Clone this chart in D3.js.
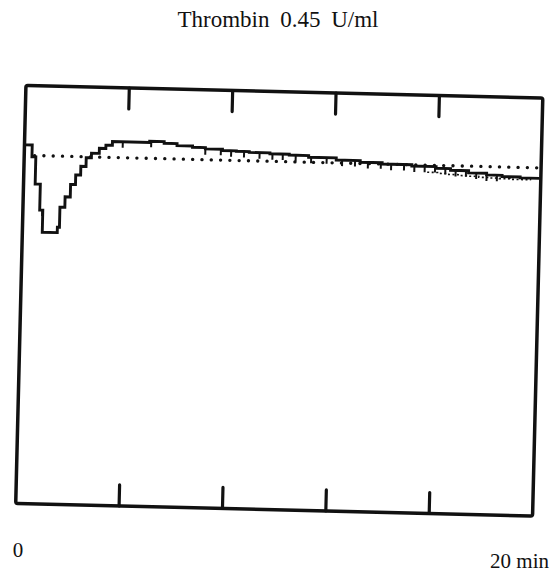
<!DOCTYPE html>
<html>
<head>
<meta charset="utf-8">
<script src="https://cdn.jsdelivr.net/npm/d3@7"></script>
<style>
  html, body { margin: 0; padding: 0; background: #fff; }
  svg { display: block; }
  text { font-family: "Liberation Serif", "DejaVu Serif", serif; fill: #111; }
</style>
</head>
<body>
<svg id="chart" width="557" height="572"></svg>
<script>
// ---- data (time in min, signal in % of full scale) ----
const title = "Thrombin 0.45 U/ml";
const xStartLabel = "0";
const xEndLabel = "20 min";
const xDomain = [0, 20];
const yDomain = [0, 100];
const tickTimes = [4, 8, 12, 16];
const baselineValue = 83.3;

const traceTimes = [0.05, 0.3, 0.45, 0.65, 0.77, 1.35, 1.43, 1.62, 1.82, 2.01, 2.2, 2.4, 2.6, 2.9, 3.15, 3.4,
  4.84, 5.4, 5.9, 6.5, 7.0, 7.66, 8.2, 8.7, 9.5, 10.25, 11.0, 12.07, 13.0, 13.85, 15.0, 15.94, 16.5, 17.2, 17.9, 18.5, 19.2, 19.95];
const traceValues = [85.8, 83.0, 76.5, 70.3, 65.0, 66.3, 71.1, 73.6, 76.6, 78.9, 81.0, 83.1, 84.2, 85.4, 86.2, 87.1,
  87.4, 87.0, 86.5, 86.2, 85.9, 85.6, 85.5, 85.3, 85.1, 84.9, 84.5, 84.0, 83.6, 83.3, 83.0, 82.6, 82.2, 81.7, 81.3, 81.0, 80.8, 80.8];

// small noise ticks hanging below the trace (times)
const noiseTimes = [0.75, 3.8, 4.9, 7.0, 7.6, 8.0, 8.5, 9.1, 9.6, 10.0, 10.5, 11.1, 11.7, 12.3, 12.8, 13.3, 13.8, 14.2, 14.7, 15.1, 15.5, 15.9, 16.3, 16.7, 17.1, 17.5, 17.9, 18.3];
// lower dotted secondary trace near the end (time, value)
const lowerTimes = [15.6, 16.0, 16.4, 16.8, 17.2, 17.6, 18.0, 18.4, 18.8, 19.2, 19.6];
const lowerValues = [81.6, 81.4, 81.2, 81.0, 80.9, 80.7, 80.6, 80.5, 80.4, 80.4, 80.3];

// ---- layout ----
const svg = d3.select("#chart");
const W = 517, H = 418;
const cx = 279.25, cy = 300.75;
const x0 = cx - W / 2, y0 = cy - H / 2;
const rot = 1.4;
const ink = "#111";

const x = d3.scaleLinear().domain(xDomain).range([x0, x0 + W]);
const y = d3.scaleLinear().domain(yDomain).range([y0 + H, y0]);

svg.append("text")
  .attr("x", 278).attr("y", 27)
  .attr("text-anchor", "middle")
  .attr("font-size", 23)
  .attr("word-spacing", 5)
  .text(title);

const g = svg.append("g").attr("transform", `rotate(${rot},${cx},${cy})`);

// frame
g.append("rect")
  .attr("x", x0).attr("y", y0).attr("width", W).attr("height", H)
  .attr("rx", 2)
  .attr("fill", "none").attr("stroke", ink).attr("stroke-width", 3.5);

// ticks top and bottom
g.selectAll(".ttop").data(tickTimes).join("line")
  .attr("x1", d => x(d)).attr("x2", d => x(d))
  .attr("y1", y0).attr("y2", y0 + 21)
  .attr("stroke", ink).attr("stroke-width", 3.2).attr("stroke-linecap", "round");
g.selectAll(".tbot").data(tickTimes).join("line")
  .attr("x1", d => x(d)).attr("x2", d => x(d))
  .attr("y1", y0 + H).attr("y2", y0 + H - 21)
  .attr("stroke", ink).attr("stroke-width", 3.2).attr("stroke-linecap", "round");

// dotted baseline
g.append("line")
  .attr("x1", x(0.4)).attr("x2", x(19.95))
  .attr("y1", y(baselineValue)).attr("y2", y(baselineValue))
  .attr("stroke", ink).attr("stroke-width", 3.3)
  .attr("stroke-linecap", "round")
  .attr("stroke-dasharray", "0.1 9.2");

// lower dotted trace
g.append("path")
  .datum(d3.zip(lowerTimes, lowerValues))
  .attr("d", d3.line().x(d => x(d[0])).y(d => y(d[1])).curve(d3.curveStepAfter))
  .attr("fill", "none").attr("stroke", ink).attr("stroke-width", 1.6)
  .attr("stroke-dasharray", "2 2.5");

// main trace
const traceData = d3.zip(traceTimes, traceValues);
g.append("path")
  .datum(traceData)
  .attr("d", d3.line().x(d => x(d[0])).y(d => y(d[1])).curve(d3.curveStepAfter))
  .attr("fill", "none").attr("stroke", ink).attr("stroke-width", 2.9);

// noise ticks below trace
const stepVal = t => {
  let v = traceValues[0];
  for (let i = 0; i < traceTimes.length; i++) if (traceTimes[i] <= t) v = traceValues[i];
  return v;
};
g.selectAll(".noise").data(noiseTimes).join("line")
  .attr("x1", d => x(d)).attr("x2", d => x(d))
  .attr("y1", d => y(stepVal(d))).attr("y2", d => y(stepVal(d)) + 6)
  .attr("stroke", ink).attr("stroke-width", 2);

// axis labels (outside, not rotated)
svg.append("text")
  .attr("x", 18).attr("y", 557)
  .attr("text-anchor", "middle")
  .attr("font-size", 21)
  .text(xStartLabel);
svg.append("text")
  .attr("x", 549).attr("y", 568)
  .attr("text-anchor", "end")
  .attr("font-size", 21)
  .text(xEndLabel);
</script>
</body>
</html>
